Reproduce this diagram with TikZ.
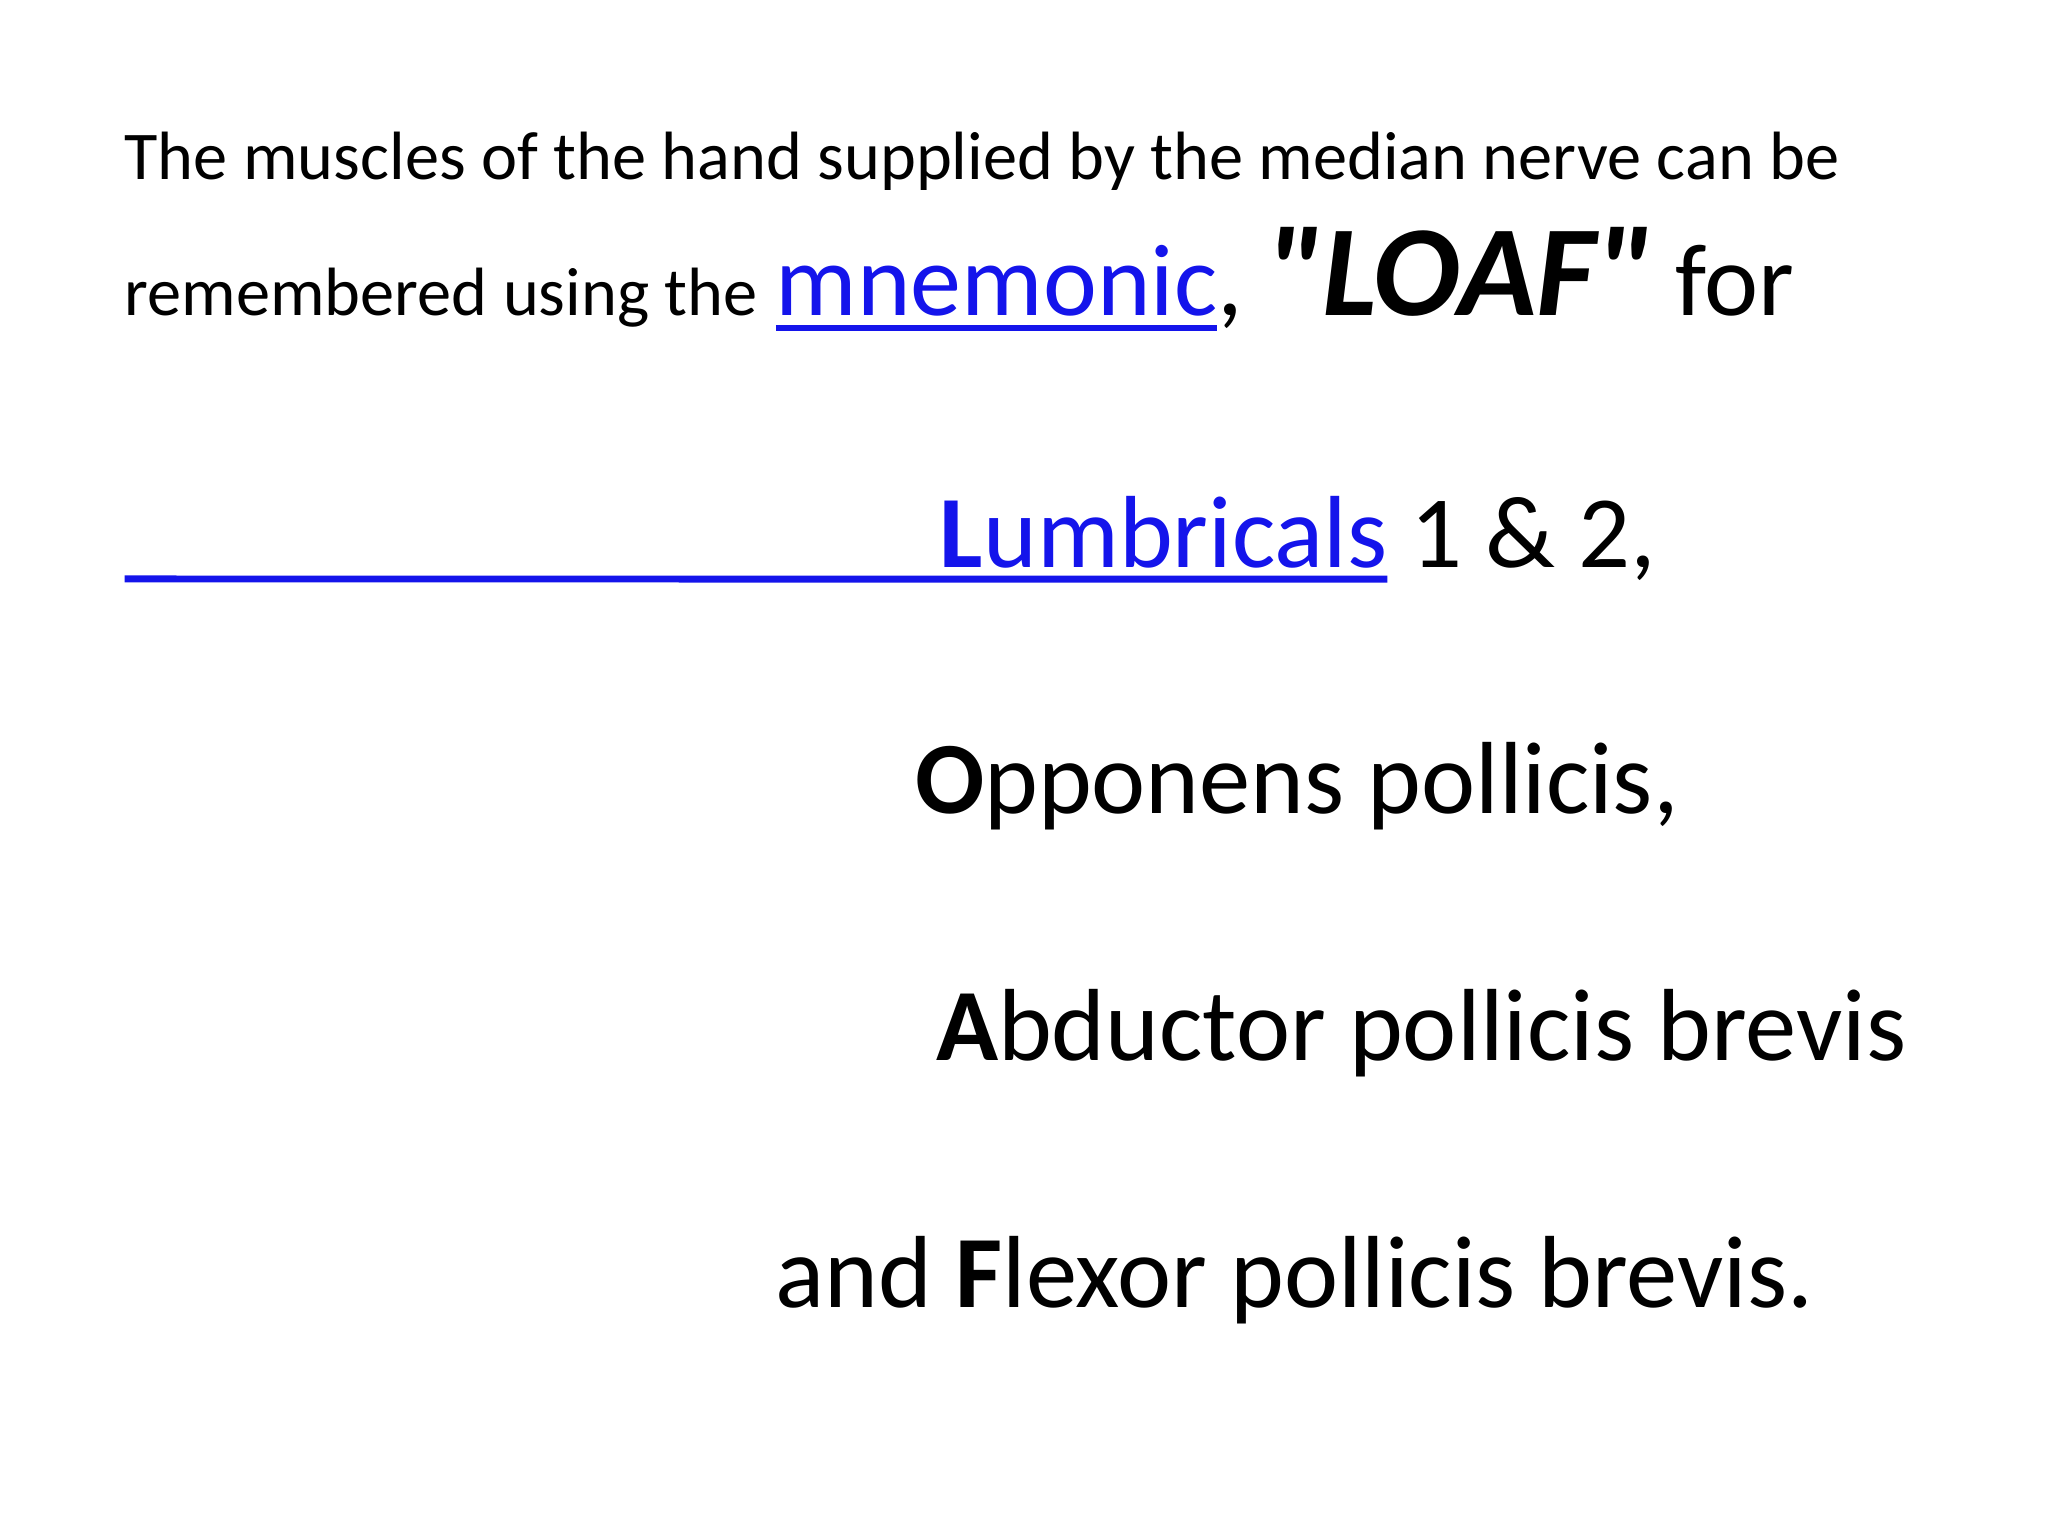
\documentclass[tikz,border=0pt]{standalone}
\usepackage{fontspec}
\setmainfont{Carlito}
\definecolor{lnk}{RGB}{20,20,235}
\begin{document}
\begin{tikzpicture}[x=0.01cm,y=-0.01cm,
  t/.style={anchor=base west,inner sep=0pt,outer sep=0pt},
  small/.style={font=\fontsize{14.8}{17}\selectfont},
  big/.style={font=\fontsize{22.2}{26}\selectfont}]
\useasboundingbox (0,0) rectangle (1560,1170);
\node[t,small] (l1) at (95,137) {The muscles of the hand supplied by the median nerve can be};
\node[t,small] (l2) at (95,240) {remembered using the};
\node[t,font=\fontsize{22.1}{26}\selectfont,text=lnk] (mn) at (591,240) {mnemonic};
\node[t,big] (loaf) at (mn.base east) {, {\fontsize{28}{32}\selectfont\textbf{\textit{\textquotedbl LOAF\textquotedbl}}} for};
\draw[lnk,line width=1.2pt] ([yshift=-2.8pt]mn.base west) -- ([yshift=-2.8pt]mn.base east);
\node[t,big,text=lnk] (lu) at (716,432) {\textbf{L}umbricals};
\node[t,big] (lu2) at (lu.base east) {\ 1 \& 2,};
\coordinate (ul) at (95,441);
\draw[lnk,line width=1.5pt] (ul) -- ([yshift=-2.6pt]lu.base east);
\node[t,big] (op) at (697,620) {\textbf{O}pponens pollicis,};
\node[t,big] (ab) at (713,808) {\textbf{A}bductor pollicis brevis};
\node[t,big] (fl) at (591,996) {and \textbf{F}lexor pollicis brevis.};
\end{tikzpicture}
\end{document}
